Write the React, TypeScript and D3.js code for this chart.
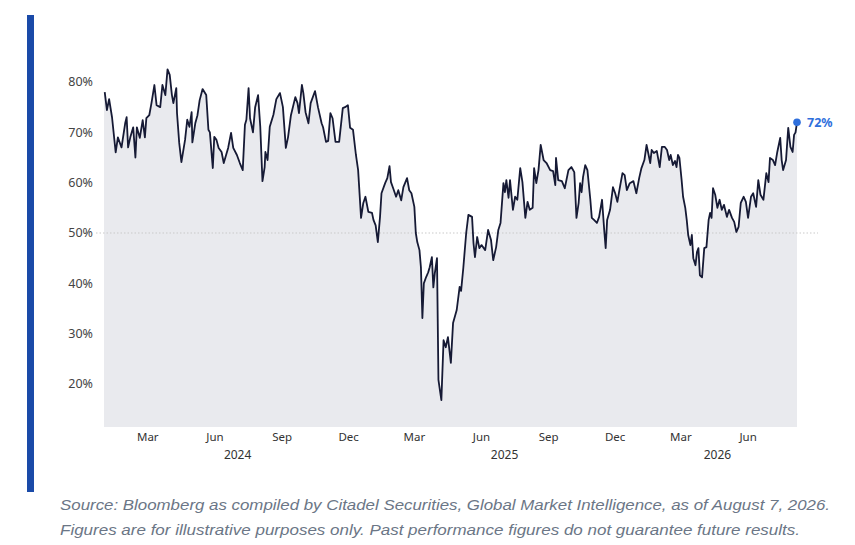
import React from "react";
import * as d3 from "d3";

const dates: string[] = [
  "2024-01-02","2024-01-05","2024-01-08","2024-01-12","2024-01-17","2024-01-20","2024-01-25","2024-01-30","2024-02-01","2024-02-03",
  "2024-02-06","2024-02-08","2024-02-10","2024-02-13","2024-02-15","2024-02-19","2024-02-23","2024-02-26","2024-02-28","2024-03-03",
  "2024-03-06","2024-03-10","2024-03-13","2024-03-18","2024-03-21","2024-03-25","2024-03-28","2024-03-31","2024-04-03","2024-04-05",
  "2024-04-09","2024-04-10","2024-04-13","2024-04-16","2024-04-21","2024-04-24","2024-04-27","2024-04-30","2024-05-01","2024-05-05",
  "2024-05-08","2024-05-11","2024-05-15","2024-05-20","2024-05-23","2024-05-25","2024-05-29","2024-05-31","2024-06-03","2024-06-06",
  "2024-06-10","2024-06-13","2024-06-19","2024-06-23","2024-06-26","2024-07-01","2024-07-05","2024-07-09","2024-07-12","2024-07-14",
  "2024-07-17","2024-07-19","2024-07-23","2024-07-26","2024-07-30","2024-08-02","2024-08-05","2024-08-08","2024-08-09","2024-08-12",
  "2024-08-15","2024-08-20","2024-08-24","2024-08-29","2024-09-02","2024-09-06","2024-09-09","2024-09-13","2024-09-19","2024-09-22",
  "2024-09-24","2024-09-28","2024-09-30","2024-10-03","2024-10-07","2024-10-10","2024-10-16","2024-10-20","2024-10-25","2024-10-27",
  "2024-10-31","2024-11-03","2024-11-06","2024-11-09","2024-11-13","2024-11-18","2024-11-23","2024-11-26","2024-11-30","2024-12-03",
  "2024-12-07","2024-12-11","2024-12-14","2024-12-18","2024-12-21","2024-12-24","2024-12-28","2025-01-02","2025-01-04","2025-01-07",
  "2025-01-10","2025-01-13","2025-01-15","2025-01-20","2025-01-23","2025-01-26","2025-01-28","2025-01-31","2025-02-04","2025-02-07",
  "2025-02-11","2025-02-14","2025-02-19","2025-02-22","2025-02-25","2025-03-01","2025-03-03","2025-03-05","2025-03-08","2025-03-10",
  "2025-03-12","2025-03-14","2025-03-17","2025-03-20","2025-03-22","2025-03-25","2025-03-27","2025-03-29","2025-04-01","2025-04-03",
  "2025-04-05","2025-04-07","2025-04-10","2025-04-13","2025-04-16","2025-04-20","2025-04-23","2025-04-28","2025-05-02","2025-05-04",
  "2025-05-07","2025-05-11","2025-05-14","2025-05-19","2025-05-21","2025-05-23","2025-05-26","2025-05-29","2025-06-01","2025-06-06",
  "2025-06-10","2025-06-14","2025-06-17","2025-06-21","2025-06-24","2025-06-27","2025-07-01","2025-07-03","2025-07-05","2025-07-08",
  "2025-07-10","2025-07-14","2025-07-17","2025-07-20","2025-07-24","2025-07-27","2025-07-31","2025-08-03","2025-08-06","2025-08-10",
  "2025-08-12","2025-08-15","2025-08-18","2025-08-21","2025-08-25","2025-08-29","2025-09-03","2025-09-07","2025-09-10","2025-09-11",
  "2025-09-14","2025-09-19","2025-09-23","2025-09-28","2025-10-02","2025-10-06","2025-10-09","2025-10-12","2025-10-14","2025-10-16",
  "2025-10-18","2025-10-21","2025-10-24","2025-10-28","2025-10-30","2025-11-02","2025-11-06","2025-11-09","2025-11-13","2025-11-16",
  "2025-11-18","2025-11-20","2025-11-24","2025-11-28","2025-12-01","2025-12-04","2025-12-08","2025-12-11","2025-12-14","2025-12-17",
  "2025-12-21","2025-12-26","2025-12-30","2026-01-03","2026-01-06","2026-01-10","2026-01-13","2026-01-15","2026-01-18","2026-01-20",
  "2026-01-23","2026-01-27","2026-01-31","2026-02-03","2026-02-07","2026-02-10","2026-02-13","2026-02-15","2026-02-18","2026-02-21",
  "2026-02-23","2026-02-25","2026-02-27","2026-03-02","2026-03-04","2026-03-07","2026-03-09","2026-03-11","2026-03-14","2026-03-16",
  "2026-03-18","2026-03-21","2026-03-23","2026-03-25","2026-03-27","2026-03-30","2026-04-02","2026-04-05","2026-04-08","2026-04-10",
  "2026-04-12","2026-04-14","2026-04-17","2026-04-20","2026-04-23","2026-04-26","2026-04-29","2026-05-03","2026-05-06","2026-05-10",
  "2026-05-13","2026-05-16","2026-05-19","2026-05-22","2026-05-26","2026-05-29","2026-06-01","2026-06-05","2026-06-08","2026-06-12",
  "2026-06-15","2026-06-18","2026-06-22","2026-06-26","2026-06-29","2026-07-01","2026-07-05","2026-07-08","2026-07-11","2026-07-15",
  "2026-07-17","2026-07-19","2026-07-23","2026-07-26","2026-07-29","2026-08-01","2026-08-03","2026-08-05","2026-08-07",
];

const values: number[] = [
  78, 74.4, 76.6, 73, 66, 69, 67, 71.8, 73, 67,
  69, 70, 71, 65, 71, 68.9, 72.4, 69, 72.8, 73.4,
  75.8, 79.4, 75.4, 75, 79.4, 77.4, 82.5, 81.4, 77.4, 75.8,
  78.8, 73.8, 67.9, 64.1, 68.5, 72.5, 71.1, 74, 68, 71.8,
  73.4, 76.4, 78.6, 77.4, 70.5, 70, 62.9, 69.1, 68.5, 66.9,
  66.1, 63.9, 66.9, 69.9, 66.9, 65.5, 63.9, 62.5, 71.5, 72.5,
  78.8, 72.8, 70, 75, 77.4, 71.1, 60.3, 63.1, 66.1, 64.5,
  71.1, 73.5, 76.6, 77.8, 75, 66.9, 69, 73.4, 77, 75.8,
  73.8, 79.4, 77.8, 74, 71.8, 75.8, 78.2, 75, 71.8, 71,
  68.1, 68.3, 73.8, 72.8, 68.1, 68.1, 74.8, 75, 75.4, 70.9,
  70.5, 65.5, 62.5, 53, 55.9, 57.2, 54.2, 54, 52.6, 51.5,
  48.2, 53.2, 57.9, 59.9, 60.9, 63.3, 60.1, 58.9, 57.2, 58.5,
  56.5, 59.1, 60.9, 58.5, 57.9, 55.2, 50, 48.2, 46.6, 43.2,
  33.1, 40, 41.2, 42.2, 43.2, 45.2, 39.2, 42, 45, 20.8,
  18.8, 16.8, 28.7, 27.3, 29.3, 24.2, 32.1, 34.7, 39.3, 38.5,
  43, 50, 53.6, 53.2, 48, 45.2, 49.2, 47, 47.6, 46.6,
  50.6, 48.6, 44.6, 47.2, 50.6, 52, 59.9, 58.1, 60.5, 57,
  60.5, 54.6, 57.2, 56.6, 62.9, 60.1, 53, 56.2, 54.6, 55,
  62.9, 59.9, 62.5, 67.5, 64.5, 63.9, 62.5, 62.3, 59.5, 64.9,
  60.5, 60.3, 58.9, 62.5, 63.1, 62.1, 53, 56, 59.9, 58.1,
  61.1, 63.5, 62.5, 56.6, 53, 52.6, 52, 53.2, 56.6, 50.6,
  47, 52.6, 54.6, 59.1, 57.9, 56.2, 59.5, 61.9, 61.5, 58.5,
  59.9, 60.3, 57.9, 61, 62.9, 64.5, 67.5, 66.1, 63.9, 66.5,
  65.9, 66.3, 63.1, 67.1, 67.1, 66.5, 64.5, 65.5, 63.5, 64.3,
  63.1, 65.5, 64.9, 60.5, 57.2, 55, 52.6, 49.6, 47.6, 49.6,
  45, 43.6, 46.2, 47, 41.6, 41.2, 47, 47.2, 52.6, 54,
  53, 58.9, 57.6, 55, 56.6, 54.6, 55.6, 53.2, 54.6, 53,
  52.2, 50.2, 51.2, 56, 57.2, 56.2, 53, 57.2, 57.9, 55.2,
  60.5, 57.6, 56.6, 61.9, 60.1, 64.9, 64.5, 63.5, 66.1, 68.9,
  64.5, 62.5, 64.5, 70.9, 67.1, 66.1, 69.5, 70, 72,
];

const yTicks: number[] = [20, 30, 40, 50, 60, 70, 80];
const monthTicks: string[] = [
  "2024-03-01","2024-06-01","2024-09-01","2024-12-01",
  "2025-03-01","2025-06-01","2025-09-01","2025-12-01",
  "2026-03-01","2026-06-01",
];
const years: string[] = ["2024", "2025", "2026"];
const refLine = 50;
const sourceLines: string[] = [
  "Source: Bloomberg as compiled by Citadel Securities, Global Market Intelligence, as of August 7, 2026.",
  "Figures are for illustrative purposes only. Past performance figures do not guarantee future results.",
];

export default function App() {
  const W = 855, H = 545;
  const left = 104, right = 797, top = 82, bottom = 427;
  const parse = d3.utcParse("%Y-%m-%d");
  const data = dates.map((d, i) => ({ date: parse(d)!, value: values[i] }));
  const start = parse("2024-01-01")!;
  const end = data[data.length - 1].date;
  const x = d3.scaleUtc().domain([start, end]).range([left, right]);
  const y = d3.scaleLinear().domain([20, 80]).range([384, top]);

  const area = d3.area<{ date: Date; value: number }>()
    .x(d => x(d.date)).y0(bottom).y1(d => y(d.value));
  const line = d3.line<{ date: Date; value: number }>()
    .x(d => x(d.date)).y(d => y(d.value));

  const fmtMonth = d3.utcFormat("%b");
  const last = data[data.length - 1];
  const font = "'Noto Sans', 'Open Sans', sans-serif";

  return (
    <svg width={W} height={H} style={{ position: "absolute", left: 0, top: 0, background: "#fff" }}>
      <rect x={27} y={15} width={7} height={477} fill="#1a4aa8" />
      <path d={area([{ date: start, value: values[0] }, ...data]) || ""} fill="#e9eaee" />
      <line x1={96} x2={818} y1={y(refLine)} y2={y(refLine)} stroke="#c9c9c9" strokeWidth={1} strokeDasharray="1.5,2" />
      <path d={line(data) || ""} fill="none" stroke="#161a35" strokeWidth={1.8} strokeLinejoin="round" />
      {yTicks.map(t => (
        <text key={t} x={93} y={y(t)} dy="0.35em" textAnchor="end" fontSize={12.5} fill="#444" fontFamily={font}>{t}%</text>
      ))}
      {monthTicks.map(m => {
        const d = parse(m)!;
        return (
          <text key={m} x={x(d)} y={441} textAnchor="middle" fontSize={11.5} fill="#333" fontFamily={font}>{fmtMonth(d)}</text>
        );
      })}
      {years.map(yr => {
        const a = parse(`${yr}-01-01`)!;
        const b = parse(`${+yr + 1}-01-01`)!;
        const xa = Math.max(x(a), left);
        const xb = Math.min(x(b), right);
        return (
          <text key={yr} x={(xa + xb) / 2} y={458.5} textAnchor="middle" fontSize={12} fill="#333" fontFamily={font}>{yr}</text>
        );
      })}
      <circle cx={x(last.date)} cy={y(last.value)} r={3.8} fill="#2f6fdc" />
      <text x={x(last.date) + 10} y={y(last.value)} dy="0.35em" fontSize={12.5} fontWeight="bold" fill="#2f6fdc" fontFamily={font}>{Math.round(last.value)}%</text>
      {sourceLines.map((s, i) => (
        <text key={i} x={60} y={510 + i * 25} fontSize={15.5} fontStyle="italic" fill="#6b7686" fontFamily="'Liberation Sans', sans-serif"
          textLength={i === 0 ? 770 : 740} lengthAdjust="spacingAndGlyphs">{s}</text>
      ))}
    </svg>
  );
}
